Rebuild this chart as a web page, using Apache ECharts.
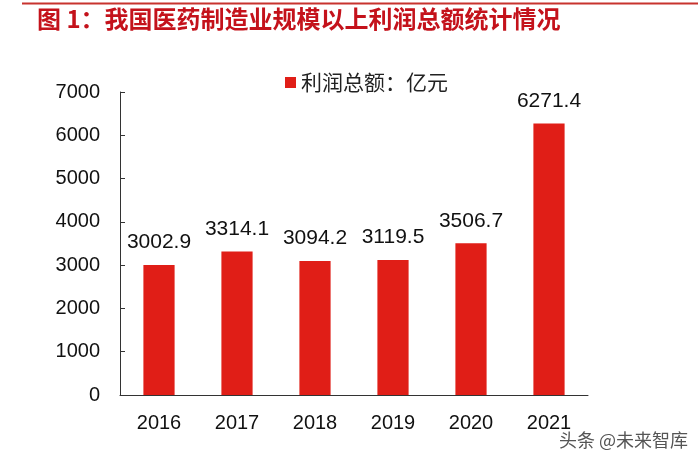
<!DOCTYPE html>
<html><head><meta charset="utf-8">
<script src="https://cdn.jsdelivr.net/npm/echarts@6/dist/echarts.min.js"></script>
<style>html,body{margin:0;padding:0;background:#fff}#c{width:700px;height:462px}</style>
</head><body><div id="c"></div>
<script>
const categories = ['2016','2017','2018','2019','2020','2021'];
const profits = [3002.9, 3314.1, 3094.2, 3119.5, 3506.7, 6271.4];
const yTicks = [0, 1000, 2000, 3000, 4000, 5000, 6000, 7000];
const seriesName = '利润总额：亿元';
const titleText = '图 1：我国医药制造业规模以上利润总额统计情况';
const watermark = '头条 @未来智库';

const chart = echarts.init(document.getElementById('c'), null, {renderer: 'canvas'});
chart.setOption({
  backgroundColor: '#ffffff',
  animation: false,
  graphic: [
    {type: 'line', shape: {x1: 22, y1: 3.5, x2: 698, y2: 3.5}, style: {stroke: '#c8332e', lineWidth: 2}},
    {type: 'text', left: 37, top: 7, style: {text: titleText, fill: '#c4121b', font: 'bold 24px "Noto Sans CJK SC"'}},
    {type: 'text', left: 558, top: 430, style: {text: watermark, fill: '#555', font: '18px "Noto Sans CJK SC"', stroke: '#fff', lineWidth: 2}}
  ],
  legend: {
    data: [seriesName], top: 67, left: 280,
    itemWidth: 11, itemHeight: 11, icon: 'rect', itemGap: 3,
    textStyle: {fontSize: 21, color: '#222', fontFamily: '"Noto Sans CJK SC"'}
  },
  grid: {left: 120, right: 112, top: 92, bottom: 67},
  xAxis: {
    type: 'category', data: categories,
    axisLine: {lineStyle: {color: '#333', width: 1}},
    axisTick: {inside: true, length: 6, lineStyle: {color: '#333'}},
    axisLabel: {fontSize: 20, color: '#111', margin: 18, fontFamily: 'Liberation Sans'}
  },
  yAxis: {
    type: 'value', min: yTicks[0], max: yTicks[yTicks.length - 1], interval: 1000,
    axisLine: {show: true, lineStyle: {color: '#333', width: 1}},
    axisTick: {show: true, inside: true, length: 5, lineStyle: {color: '#333'}},
    splitLine: {show: false},
    axisLabel: {fontSize: 20, color: '#111', margin: 20, fontFamily: 'Liberation Sans', formatter: v => String(v)}
  },
  series: [{
    name: seriesName, type: 'bar', data: profits, barWidth: '40%',
    itemStyle: {color: '#e01e17'},
    label: {show: true, position: 'top', distance: 12, fontSize: 21, color: '#111',
      fontFamily: 'Liberation Sans', formatter: p => p.value.toFixed(1)}
  }]
});
</script></body></html>
